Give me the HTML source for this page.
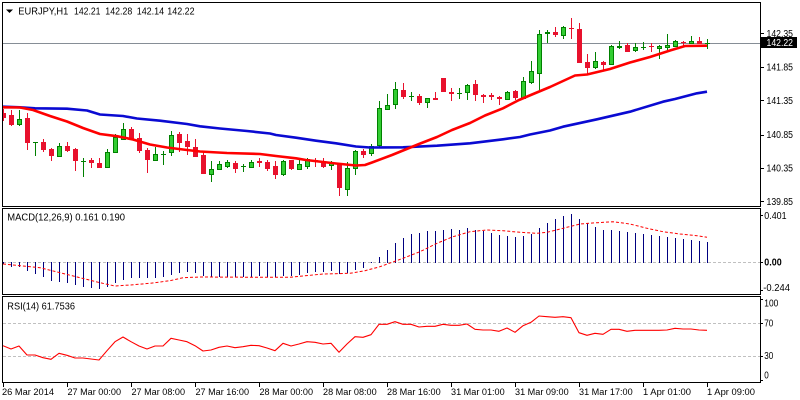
<!DOCTYPE html>
<html><head><meta charset="utf-8"><style>
html,body{margin:0;padding:0;background:#fff;}
svg{display:block;font-family:"Liberation Sans",sans-serif;}
</style></head><body>
<svg width="800" height="400" viewBox="0 0 800 400" xmlns="http://www.w3.org/2000/svg">
<rect width="800" height="400" fill="#fff"/>
<defs>
<clipPath id="cm"><rect x="3" y="3" width="757" height="203"/></clipPath>
<clipPath id="cd"><rect x="3" y="209" width="757" height="85"/></clipPath>
<clipPath id="cr"><rect x="3" y="297" width="757" height="85"/></clipPath>
</defs>

<!-- frames -->
<g fill="none" stroke="#000" stroke-width="1">
<rect x="2.5" y="2.5" width="758" height="204"/>
<rect x="2.5" y="208.5" width="758" height="86"/>
<rect x="2.5" y="296.5" width="758" height="86"/>
</g>

<!-- header -->
<polygon points="6,9.5 13,9.5 9.5,13" fill="#000"/>
<g font-size="10" fill="#000">
<text x="18.3" y="14.5" textLength="50" lengthAdjust="spacingAndGlyphs">EURJPY,H1</text>
<text x="74" y="14.5" textLength="26.5" lengthAdjust="spacingAndGlyphs">142.21</text>
<text x="105.3" y="14.5" textLength="27" lengthAdjust="spacingAndGlyphs">142.28</text>
<text x="136.7" y="14.5" textLength="27.5" lengthAdjust="spacingAndGlyphs">142.14</text>
<text x="167.3" y="14.5" textLength="27.3" lengthAdjust="spacingAndGlyphs">142.22</text>
</g>

<!-- current price line -->
<line x1="3" y1="43.5" x2="760" y2="43.5" stroke="#868e96" stroke-width="1"/>

<g clip-path="url(#cm)">
<!-- green wicks -->
<path fill="none" stroke="#008000" stroke-width="1" d="M19.5 110V126M35.5 142V156M33 142.5h5M59.5 143V156M83.5 158V177M81 161.5h5M107.5 149V168M115.5 134V153M123.5 123V140M155.5 147V160M163.5 151V165M161 154.5h5M171.5 131V156M211.5 161V182M219.5 161V170M227.5 160V168M243.5 164V172M241 166.5h5M251.5 160V168M283.5 160V176M299.5 158V169M307.5 158V169M331.5 161V170M347.5 162V196M355.5 150V175M371.5 144V156M379.5 101V147M387.5 94V110M395.5 82V109M411.5 92V101M409 96.5h5M427.5 98V108M459.5 88V99M457 93.5h5M467.5 84V100M507.5 91V100M523.5 77V99M531.5 61V84M539.5 30V90M547.5 30V43M563.5 26V39M595.5 52V69M611.5 45V65M619.5 41V49M635.5 43V52M643.5 42V50M641 47.5h5M659.5 45V59M667.5 34V50M675.5 40V47M691.5 36V43M707.5 39V49M705 43.5h5"/>
<!-- green bodies -->
<path fill="#32cd32" stroke="#008000" stroke-width="1" d="M17.5 119.5h4v5h-4zM57.5 146.5h4v10h-4zM105.5 152.5h4v15h-4zM113.5 137.5h4v15h-4zM121.5 129.5h4v10h-4zM153.5 154.5h4v6h-4zM169.5 135.5h4v17h-4zM209.5 169.5h4v5h-4zM217.5 164.5h4v5h-4zM225.5 162.5h4v4h-4zM249.5 162.5h4v5h-4zM281.5 161.5h4v13h-4zM297.5 164.5h4v5h-4zM305.5 159.5h4v7h-4zM329.5 163.5h4v2h-4zM345.5 168.5h4v21h-4zM353.5 151.5h4v17h-4zM369.5 146.5h4v7h-4zM377.5 108.5h4v37h-4zM385.5 105.5h4v4h-4zM393.5 89.5h4v15h-4zM425.5 98.5h4v4h-4zM465.5 85.5h4v7h-4zM505.5 92.5h4v7h-4zM521.5 81.5h4v17h-4zM529.5 71.5h4v11h-4zM537.5 34.5h4v39h-4zM545.5 32.5h4v1h-4zM561.5 27.5h4v8h-4zM593.5 61.5h4v6h-4zM609.5 46.5h4v18h-4zM617.5 46.5h4v1h-4zM633.5 47.5h4v3h-4zM657.5 46.5h4v2h-4zM665.5 45.5h4v2h-4zM673.5 41.5h4v5h-4zM689.5 41.5h4v2h-4z"/>
<!-- red wicks -->
<path fill="none" stroke="#e8112d" stroke-width="1" d="M3.5 109V121M11.5 110V126M27.5 113V150M43.5 139V152M51.5 148V161M67.5 142V152M75.5 148V171M91.5 158V168M99.5 158V168M131.5 127V140M139.5 133V153M147.5 148V173M179.5 132V152M187.5 134V155M195.5 139V157M203.5 152V174M235.5 161V173M259.5 158V167M267.5 160V171M275.5 161V179M291.5 160V170M315.5 158V167M323.5 158V168M339.5 163V196M363.5 149V158M403.5 83V99M419.5 94V105M435.5 92V100M451.5 88V101M475.5 80V101M483.5 94V103M491.5 93V100M499.5 96V105M515.5 90V100M555.5 27V37M571.5 18V39M569 28.5h5M579.5 23V63M587.5 54V74M603.5 61V71M627.5 43V52M651.5 43V52M649 46.5h5M683.5 41V47M681 42.5h5M699.5 37V44"/>
<!-- red bodies -->
<path fill="#e8112d" stroke="#e8112d" stroke-width="1" d="M1.5 113.5h4v4h-4zM9.5 115.5h4v9h-4zM25.5 118.5h4v24h-4zM41.5 142.5h4v7h-4zM49.5 149.5h4v6h-4zM65.5 146.5h4v4h-4zM73.5 149.5h4v11h-4zM89.5 160.5h4v2h-4zM97.5 163.5h4v4h-4zM129.5 129.5h4v10h-4zM137.5 138.5h4v12h-4zM145.5 150.5h4v9h-4zM177.5 134.5h4v8h-4zM185.5 141.5h4v5h-4zM193.5 147.5h4v9h-4zM201.5 155.5h4v18h-4zM233.5 163.5h4v5h-4zM257.5 161.5h4v1h-4zM265.5 162.5h4v6h-4zM273.5 166.5h4v8h-4zM289.5 160.5h4v8h-4zM313.5 160.5h4v1h-4zM321.5 162.5h4v4h-4zM337.5 164.5h4v23h-4zM361.5 151.5h4v3h-4zM401.5 90.5h4v6h-4zM417.5 96.5h4v6h-4zM433.5 98.5h4v1h-4zM441.5 78.5h4v13h-4zM449.5 92.5h4v1h-4zM473.5 84.5h4v10h-4zM481.5 95.5h4v1h-4zM489.5 95.5h4v1h-4zM497.5 97.5h4v1h-4zM513.5 91.5h4v6h-4zM553.5 32.5h4v2h-4zM577.5 29.5h4v33h-4zM585.5 62.5h4v5h-4zM601.5 62.5h4v2h-4zM625.5 45.5h4v6h-4zM697.5 41.5h4v2h-4z"/>

<!-- moving averages -->
<polyline fill="none" stroke="#0a0ad2" stroke-width="2.6" stroke-linejoin="round" points="3,106.7 20,107.3 35,108.3 67,108.7 87,110.5 100,114.5 123,116 137,118.5 160,120.7 187,124 200,126.3 220,128.5 247,131 270,133.5 276,135 296,137.7 316,140.7 336,143.3 356,146.5 370,147.5 403,147.3 437,145.7 470,143.3 503,139.3 520,137 530,134.5 550,130.5 563,126.7 597,119.3 630,111.7 663,101.7 675,99 697,93.3 707,91.7"/>
<polyline fill="none" stroke="#ff0000" stroke-width="2.6" stroke-linejoin="round" points="3,107.3 20,107.5 33,110 50,116 67,121.5 83,128 100,134 117,136.2 133,139.5 150,144.5 167,147.5 183,149.5 200,151.5 227,153 260,154 276,156 296,158.3 306,160 336,163.5 356,165.5 365,165 372,162.5 392,155 419,144 437,137 452,130 470,123 485,115.5 503,108.3 519,100 532,94.5 550,87 575,75.5 587,74.5 610,69 630,62.5 650,57 670,50.5 685,46 707,45.7"/>
</g>

<!-- price axis -->
<g stroke="#000" stroke-width="1">
<path d="M760 33.5h4M760 67.5h4M760 100.5h4M760 135.5h4M760 168.5h4M760 201.5h4"/>
</g>
<g font-size="10" fill="#000">
<text x="766.5" y="37" textLength="26.5" lengthAdjust="spacingAndGlyphs">142.35</text>
<text x="766.5" y="70.5" textLength="26.5" lengthAdjust="spacingAndGlyphs">141.85</text>
<text x="766.5" y="104" textLength="26.5" lengthAdjust="spacingAndGlyphs">141.35</text>
<text x="766.5" y="138" textLength="26.5" lengthAdjust="spacingAndGlyphs">140.85</text>
<text x="766.5" y="171.5" textLength="26.5" lengthAdjust="spacingAndGlyphs">140.35</text>
<text x="766.5" y="205" textLength="26.5" lengthAdjust="spacingAndGlyphs">139.85</text>
</g>
<rect x="761" y="37" width="36" height="11" fill="#000"/>
<text x="766.5" y="46" font-size="10" fill="#fff" textLength="26.5" lengthAdjust="spacingAndGlyphs">142.22</text>

<!-- MACD -->
<g clip-path="url(#cd)">
<line x1="3" y1="262.5" x2="760" y2="262.5" stroke="#c0c0c0" stroke-width="1" stroke-dasharray="3,2"/>
<path fill="none" stroke="#000080" stroke-width="1" d="M3.5 262V264M11.5 262V267M19.5 262V267M27.5 262V271M35.5 262V274M43.5 262V277M51.5 262V281M59.5 262V282M67.5 262V283M75.5 262V285M83.5 262V287M91.5 262V288M99.5 262V289M107.5 262V287M115.5 262V283M123.5 262V280M131.5 262V278M139.5 262V278M147.5 262V278M155.5 262V278M163.5 262V277M171.5 262V275M179.5 262V273M187.5 262V272M195.5 262V273M203.5 262V276M211.5 262V277M219.5 262V277M227.5 262V277M235.5 262V277M243.5 262V277M251.5 262V277M259.5 262V276M267.5 262V277M275.5 262V277M283.5 262V276M291.5 262V276M299.5 262V275M307.5 262V273M315.5 262V272M323.5 262V272M331.5 262V271M339.5 262V274M347.5 262V273M355.5 262V270M363.5 262V268M371.5 262V263M379.5 263V257M387.5 263V250M395.5 263V243M403.5 263V238M411.5 263V234M419.5 263V233M427.5 263V231M435.5 263V231M443.5 263V230M451.5 263V229M459.5 263V230M467.5 263V228M475.5 263V230M483.5 263V231M491.5 263V233M499.5 263V235M507.5 263V236M515.5 263V237M523.5 263V236M531.5 263V234M539.5 263V228M547.5 263V223M555.5 263V219M563.5 263V216M571.5 263V214M579.5 263V219M587.5 263V223M595.5 263V227M603.5 263V230M611.5 263V230M619.5 263V231M627.5 263V232M635.5 263V233M643.5 263V234M651.5 263V235M659.5 263V236M667.5 263V237M675.5 263V238M683.5 263V239M691.5 263V240M699.5 263V241M707.5 263V242"/>
<polyline fill="none" stroke="#ff0000" stroke-width="1" stroke-dasharray="3,2" points="3,264 20,265.7 40,267.7 60,272.7 80,277.7 100,282.7 115,286 130,285 150,283.3 170,280.7 183,277.7 200,277 267,277.3 290,277.3 323,274 350,273.3 365,270.7 380,266.7 403,258.3 420,251.7 437,243.3 453,236.7 470,231.7 487,230 503,230.7 520,232.3 537,233.3 547,232.3 563,228.3 580,224 597,222.7 613,221.7 630,224 647,228.3 663,231.7 680,234 697,235.7 707,237.3"/>
</g>
<g font-size="10" fill="#000">
<text x="7.3" y="220.5" textLength="117.7" lengthAdjust="spacingAndGlyphs">MACD(12,26,9) 0.161 0.190</text>
<text x="764.3" y="219" textLength="22.3" lengthAdjust="spacingAndGlyphs">0.401</text>
<text x="764.3" y="265.5" textLength="17.4" lengthAdjust="spacingAndGlyphs" font-weight="bold">0.00</text>
<text x="763.3" y="291" textLength="26.7" lengthAdjust="spacingAndGlyphs">-0.244</text>
</g>
<g stroke="#000" stroke-width="1"><path d="M760 215.5h3M760 262.5h3M760 290.5h3"/></g>

<!-- RSI -->
<g clip-path="url(#cr)">
<line x1="3" y1="323.5" x2="760" y2="323.5" stroke="#c0c0c0" stroke-width="1" stroke-dasharray="3,2"/>
<line x1="3" y1="356.5" x2="760" y2="356.5" stroke="#c0c0c0" stroke-width="1" stroke-dasharray="3,2"/>
<polyline fill="none" stroke="#ff0000" stroke-width="1.1" stroke-linejoin="round" points="3,345.7 11,349 19,346 27,355 35,355 43,357.7 51,359.3 59,353.3 67,355.3 75,358 83,358 91,359 99,360 107,350.7 115,341.7 123,337 131,341.7 139,346 147,349 155,346 163,346 171,338.3 179,340 187,341.7 195,345.7 203,351 211,350 219,347.3 227,346 235,347.7 243,346.7 251,345.3 259,345.7 267,348 275,350.7 283,343.3 291,346 299,344 307,341.7 315,342.3 323,344 331,343.3 339,352.3 347,344 355,336.7 363,337.3 371,334.7 379,324.3 387,324.3 395,321.7 403,324.3 411,324.3 419,327 427,326.3 435,326.3 443,324.3 451,325.3 459,325.3 467,324 475,329.3 483,330 491,330 499,331.3 507,328 515,332.3 523,325.7 531,322.3 539,316 547,316.7 555,317.3 563,316.7 571,317.7 579,332.7 587,335.3 595,333.3 603,334.3 611,329.3 619,329.3 627,331.3 635,330.3 643,330.3 651,330.3 659,330.3 667,330 675,328.3 683,329 691,329 699,330 707,330.3"/>
</g>
<g font-size="10" fill="#000">
<text x="7.3" y="309.3" textLength="67.7" lengthAdjust="spacingAndGlyphs">RSI(14) 61.7536</text>
<text x="764.3" y="306.7" textLength="14" lengthAdjust="spacingAndGlyphs">100</text>
<text x="764.3" y="326.5" textLength="9" lengthAdjust="spacingAndGlyphs">70</text>
<text x="764.3" y="358.8" textLength="9" lengthAdjust="spacingAndGlyphs">30</text>
<text x="764.3" y="378.5" textLength="4.5" lengthAdjust="spacingAndGlyphs">0</text>
</g>
<g stroke="#000" stroke-width="1"><path d="M760 299.5h3M760 323.5h3M760 356.5h3M760 380.5h3"/></g>

<!-- time axis -->
<g stroke="#000" stroke-width="1">
<path d="M3.5 383V387M67.5 383V387M131.5 383V387M195.5 383V387M259.5 383V387M323.5 383V387M387.5 383V387M451.5 383V387M515.5 383V387M579.5 383V387M643.5 383V387M707.5 383V387"/>
</g>
<g font-size="9.5" fill="#000">
<text x="2" y="395" textLength="52" lengthAdjust="spacingAndGlyphs">26 Mar 2014</text>
<text x="67.5" y="395" textLength="53.5" lengthAdjust="spacingAndGlyphs">27 Mar 00:00</text>
<text x="131.5" y="395" textLength="53.5" lengthAdjust="spacingAndGlyphs">27 Mar 08:00</text>
<text x="195.5" y="395" textLength="53.5" lengthAdjust="spacingAndGlyphs">27 Mar 16:00</text>
<text x="259.5" y="395" textLength="53.5" lengthAdjust="spacingAndGlyphs">28 Mar 00:00</text>
<text x="323" y="395" textLength="53.7" lengthAdjust="spacingAndGlyphs">28 Mar 08:00</text>
<text x="387" y="395" textLength="53.7" lengthAdjust="spacingAndGlyphs">28 Mar 16:00</text>
<text x="451" y="395" textLength="53.7" lengthAdjust="spacingAndGlyphs">31 Mar 01:00</text>
<text x="515" y="395" textLength="53.7" lengthAdjust="spacingAndGlyphs">31 Mar 09:00</text>
<text x="579" y="395" textLength="53.7" lengthAdjust="spacingAndGlyphs">31 Mar 17:00</text>
<text x="643" y="395" textLength="48" lengthAdjust="spacingAndGlyphs">1 Apr 01:00</text>
<text x="707" y="395" textLength="48" lengthAdjust="spacingAndGlyphs">1 Apr 09:00</text>
</g>
</svg>
</body></html>
